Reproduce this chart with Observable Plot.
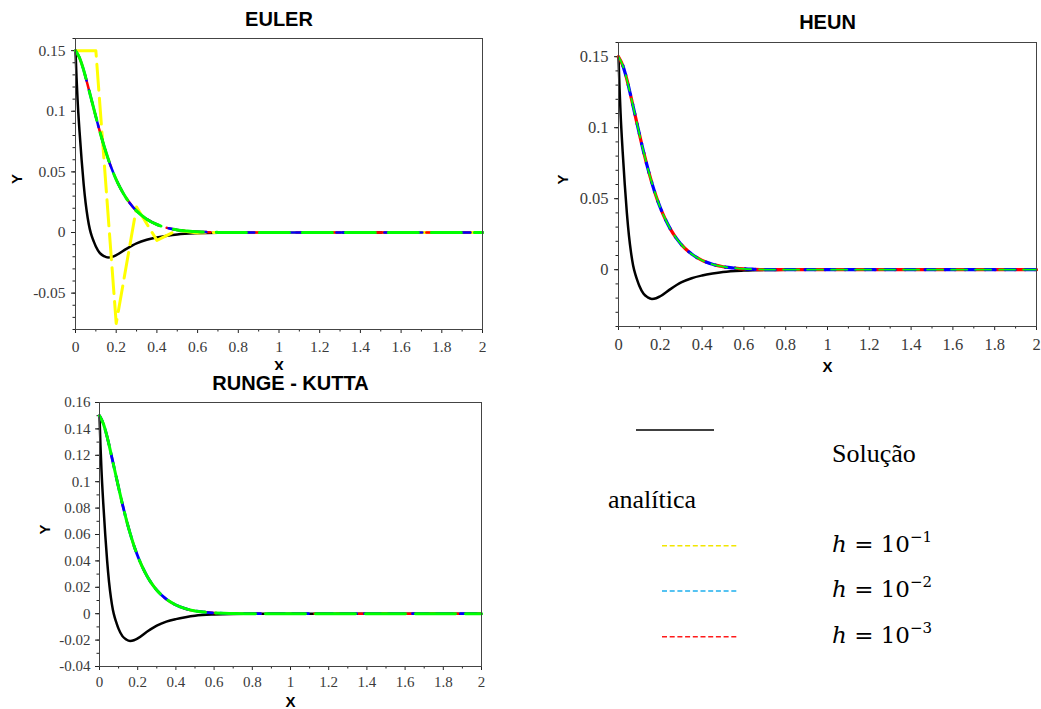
<!DOCTYPE html>
<html><head><meta charset="utf-8">
<script src="https://cdn.jsdelivr.net/npm/d3@7"></script>
<script src="https://cdn.jsdelivr.net/npm/@observablehq/plot@0.6"></script>
<style>
body{margin:0;background:#fff;}
#wrap{position:relative;width:1041px;height:709px;overflow:hidden;background:#fff;}
.panel{position:absolute;}
</style></head><body><div id="wrap"></div>
<script>
// ---- data ----
const xTicks = [0, 0.2, 0.4, 0.6, 0.8, 1, 1.2, 1.4, 1.6, 1.8, 2];
const xMinor = [0.1, 0.3, 0.5, 0.7, 0.9, 1.1, 1.3, 1.5, 1.7, 1.9];
const eulerYTicks = [-0.05, 0, 0.05, 0.1, 0.15];
const heunYTicks = [0, 0.05, 0.1, 0.15];
const rkYTicks = [-0.04, -0.02, 0, 0.02, 0.04, 0.06, 0.08, 0.1, 0.12, 0.14, 0.16];

// analytical solution (black)
const analyticX = [0, 0.005, 0.01, 0.02, 0.03, 0.04, 0.05, 0.06, 0.07, 0.08, 0.09, 0.1, 0.12, 0.14, 0.16, 0.18, 0.2, 0.25, 0.3, 0.35, 0.4, 0.45, 0.5, 0.6, 0.7, 0.8, 1, 1.5, 2];
const analyticY = [0.15, 0.128, 0.11, 0.083, 0.06, 0.040, 0.024, 0.012, 0.003, -0.003, -0.0075, -0.0115, -0.017, -0.0195, -0.0206, -0.0201, -0.0187, -0.0135, -0.009, -0.006, -0.0041, -0.0027, -0.0016, -0.0006, -0.0002, -0.0001, 0, 0, 0];

// numerical solutions (h = 1e-2, 1e-3 and the green run), same path in the three panels
const numericX = [0, 0.02, 0.04, 0.06, 0.08, 0.1, 0.12, 0.14, 0.16, 0.18, 0.2, 0.22, 0.25, 0.28, 0.3, 0.35, 0.4, 0.45, 0.5, 0.55, 0.6, 0.65, 0.7, 0.8, 1, 1.5, 2];
const numericY = [0.15, 0.144, 0.134, 0.1215, 0.1085, 0.0955, 0.083, 0.0715, 0.061, 0.0517, 0.0437, 0.0368, 0.0282, 0.0215, 0.0178, 0.011, 0.0066, 0.0038, 0.0021, 0.0012, 0.0006, 0.0003, 0.0001, 0, 0, 0, 0];

// Euler, h = 1e-1 (yellow)
const euler01X = [0, 0.1, 0.2, 0.3, 0.4, 0.5, 0.6, 0.7, 0.8, 0.9, 1, 1.1, 1.2, 1.3, 1.4, 1.5, 1.6, 1.7, 1.8, 1.9, 2];
const euler01Y = [0.15, 0.15, -0.075, 0.021, -0.0065, 0.0018, -0.0005, 0.0001, 0, 0, 0, 0, 0, 0, 0, 0, 0, 0, 0, 0, 0];

const analytic = analyticX.map((x, i) => ({x, y: analyticY[i]}));
const numeric = numericX.map((x, i) => ({x, y: numericY[i]}));
const euler01 = euler01X.map((x, i) => ({x, y: euler01Y[i]}));

const wrap = document.getElementById("wrap");

function panel(cfg) {
  const fmt = d => String(d);
  const yMinor = d3.range(Math.round(cfg.yDomain[0] * 100), Math.round(cfg.yDomain[1] * 100) + 1).map(i => i / 100);
  const axisText = {fontFamily: "Liberation Serif", fontSize: cfg.tickFont, fill: "#3a3a3a", stroke: "#222", label: null};
  const marks = [
    Plot.axisX(xMinor, {...axisText, tickSize: 2.5, tickFormat: () => ""}),
    Plot.axisX(xTicks, {...axisText, tickSize: 4, tickPadding: cfg.xPad, tickFormat: fmt}),
    Plot.axisY(yMinor, {...axisText, tickSize: 2.5, tickFormat: () => ""}),
    Plot.axisY(cfg.yTicks, {...axisText, tickSize: 4, tickPadding: cfg.yPad, tickFormat: fmt}),
    Plot.line(analytic, {x: "x", y: "y", stroke: "black", strokeWidth: 2.5, curve: "monotone-x"})
  ];
  if (cfg.yellow) {
    marks.push(Plot.line(euler01, {x: "x", y: "y", stroke: "#ffff00", strokeWidth: 3, strokeDasharray: "26,8"}));
  }
  for (const s of cfg.series) {
    marks.push(Plot.line(numeric, {x: "x", y: "y", stroke: s.color, strokeWidth: s.width, strokeDasharray: s.dash, strokeDashoffset: s.offset, curve: "monotone-x"}));
  }
  const lab = {fontFamily: "Liberation Sans", fontWeight: "bold", fill: "black", lineAnchor: "middle"};
  marks.push(
    Plot.frame({stroke: "#444", strokeWidth: 1}),
    Plot.text([cfg.title], {...lab, text: d => d, frameAnchor: "top", dy: cfg.titleDy, fontSize: 20}),
    Plot.text(["X"], {...lab, text: d => d, frameAnchor: "bottom", dy: cfg.xLabelDy, fontSize: 15}),
    Plot.text(["Y"], {...lab, text: d => d, frameAnchor: "left", dx: cfg.yLabelDx, rotate: -90, fontSize: 15})
  );
  const svg = Plot.plot({
    width: cfg.width, height: cfg.height,
    marginLeft: cfg.m[0], marginRight: cfg.m[1], marginTop: cfg.m[2], marginBottom: cfg.m[3],
    x: {domain: [0, 2], label: null},
    y: {domain: cfg.yDomain, label: null},
    style: {background: "white", fontFamily: "Liberation Serif", overflow: "hidden"},
    marks
  });
  svg.classList.add("panel");
  svg.style.left = cfg.left + "px";
  svg.style.top = cfg.top + "px";
  wrap.appendChild(svg);
}

const eulerSeries = [
  {color: "#ff0000", width: 2.5, dash: "18,8", offset: 0},
  {color: "#0000ff", width: 2.5, dash: "14,10", offset: 6},
  {color: "#00ff00", width: 3, dash: "30,13", offset: 0}
];
const heunSeries = [
  {color: "#ff0000", width: 3.2, dash: "10,10", offset: 0},
  {color: "#0000ff", width: 3.2, dash: "10,10", offset: 10},
  {color: "#00ff00", width: 1.8, dash: "16,8", offset: 4}
];
const rkSeries = [
  {color: "#ff0000", width: 2.5, dash: "12,10", offset: 3},
  {color: "#0000ff", width: 2.8, dash: "16,8", offset: 9},
  {color: "#00ff00", width: 3, dash: "40,10", offset: 0}
];

panel({left: 0, top: 0, width: 500, height: 370, m: [75, 18, 38, 41], yDomain: [-0.08, 0.16], yTicks: eulerYTicks,
  title: "EULER", titleDy: -19, xLabelDy: 37, yLabelDx: -58, tickFont: 15.5, xPad: 7, yPad: 6, yellow: true, series: eulerSeries});
panel({left: 540, top: 0, width: 501, height: 380, m: [78, 5, 42, 54], yDomain: [-0.04, 0.16], yTicks: heunYTicks,
  title: "HEUN", titleDy: -20, xLabelDy: 41, yLabelDx: -55, tickFont: 16.5, xPad: 8, yPad: 6, yellow: false, series: heunSeries});
panel({left: 0, top: 370, width: 500, height: 339, m: [99, 19, 32, 43], yDomain: [-0.04, 0.16], yTicks: rkYTicks,
  title: "RUNGE - KUTTA", titleDy: -19, xLabelDy: 36, yLabelDx: -54, tickFont: 15, xPad: 6, yPad: 5, yellow: false, series: rkSeries});

// ---- legend ----
const legendItems = [
  {color: "#f2e600", exp: "−1", y: 545.7, base: 552},
  {color: "#1eb0ee", exp: "−2", y: 591, base: 597},
  {color: "#ff1a1a", exp: "−3", y: 636.7, base: 642.5}
];
const leg = d3.create("svg").attr("width", 1041).attr("height", 709)
  .style("position", "absolute").style("left", "0px").style("top", "0px").style("pointer-events", "none");
leg.append("line").attr("x1", 636).attr("x2", 714).attr("y1", 430).attr("y2", 430).attr("stroke", "black").attr("stroke-width", 1.5);
leg.append("text").attr("x", 832).attr("y", 462).attr("font-family", "Liberation Serif").attr("font-size", 26).text("Solução");
leg.append("text").attr("x", 608).attr("y", 507.5).attr("font-family", "Liberation Serif").attr("font-size", 26).text("analítica");
for (const it of legendItems) {
  leg.append("line").attr("x1", 662).attr("x2", 739).attr("y1", it.y).attr("y2", it.y)
    .attr("stroke", it.color).attr("stroke-width", 1.6).attr("stroke-dasharray", "5,2.7");
  const t = leg.append("text").attr("x", 832).attr("y", it.base).attr("font-family", "DejaVu Serif").attr("font-size", 23);
  t.append("tspan").attr("font-style", "italic").text("h");
  t.append("tspan").text(" = 10");
  t.append("tspan").attr("dy", -10).attr("font-size", 15).text(it.exp);
}
wrap.appendChild(leg.node());
</script>
</body></html>
